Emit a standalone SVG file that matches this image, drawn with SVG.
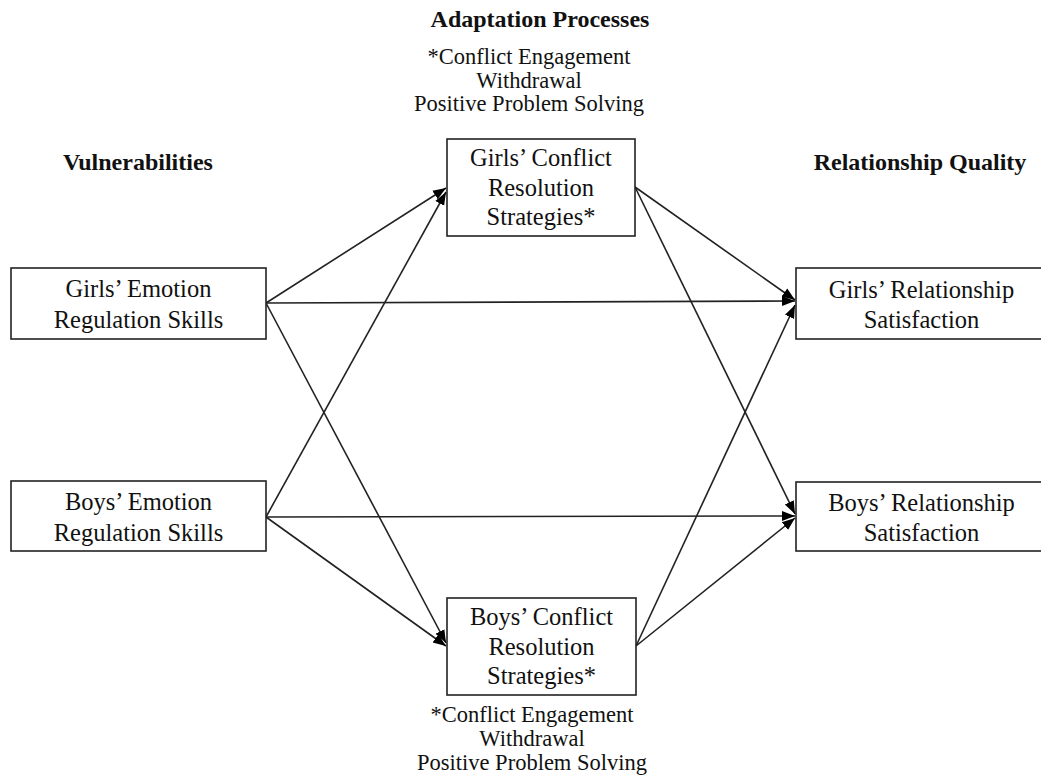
<svg xmlns="http://www.w3.org/2000/svg" width="1041" height="777" viewBox="0 0 1041 777">
<style>
  .box { fill: #ffffff; stroke: #222; stroke-width: 1.6; }
  .t { font-family: "Liberation Serif", "Times New Roman", serif; font-size: 24.5px; fill: #111; text-anchor: middle; }
  .h { font-family: "Liberation Serif", "Times New Roman", serif; font-size: 24px; font-weight: bold; fill: #111; text-anchor: middle; }
  .n { font-family: "Liberation Serif", "Times New Roman", serif; font-size: 22.5px; fill: #111; text-anchor: middle; }
  .c { stroke: #222; stroke-width: 1.6; fill: none; marker-end: url(#ah); }
</style>
<defs>
  <marker id="ah" markerUnits="userSpaceOnUse" markerWidth="14" markerHeight="12" refX="13" refY="6" orient="auto">
    <path d="M0,1 L13,6 L0,11 Z" fill="#000"/>
  </marker>
</defs>
<rect width="1041" height="777" fill="#ffffff"/>

<g id="headers">
  <text class="h" x="540" y="27">Adaptation Processes</text>
  <text class="h" x="138" y="170">Vulnerabilities</text>
  <text class="h" x="920" y="170">Relationship Quality</text>
</g>

<g id="note-top">
  <text class="n" x="529" y="64">*Conflict Engagement</text>
  <text class="n" x="529" y="88">Withdrawal</text>
  <text class="n" x="529" y="111">Positive Problem Solving</text>
</g>

<g id="note-bottom">
  <text class="n" x="532" y="722">*Conflict Engagement</text>
  <text class="n" x="532" y="746">Withdrawal</text>
  <text class="n" x="532" y="770">Positive Problem Solving</text>
</g>

<g id="connectors">
  <line class="c" x1="266" y1="303" x2="446" y2="188"/>
  <line class="c" x1="266" y1="303" x2="795" y2="301"/>
  <line class="c" x1="266" y1="303" x2="446" y2="643"/>
  <line class="c" x1="266" y1="517" x2="446" y2="192"/>
  <line class="c" x1="266" y1="517" x2="795" y2="516"/>
  <line class="c" x1="266" y1="517" x2="446" y2="646"/>
  <line class="c" x1="635" y1="187" x2="795" y2="300"/>
  <line class="c" x1="635" y1="187" x2="795" y2="514"/>
  <line class="c" x1="636" y1="646" x2="795" y2="305"/>
  <line class="c" x1="636" y1="646" x2="795" y2="518"/>
</g>

<g id="girls-emotion">
  <rect class="box" x="11" y="268" width="255" height="71"/>
  <text class="t" x="138.5" y="297">Girls’ Emotion</text>
  <text class="t" x="138.5" y="328">Regulation Skills</text>
</g>

<g id="boys-emotion">
  <rect class="box" x="11" y="481" width="255" height="70"/>
  <text class="t" x="138.5" y="510">Boys’ Emotion</text>
  <text class="t" x="138.5" y="541">Regulation Skills</text>
</g>

<g id="girls-conflict">
  <rect class="box" x="447" y="139" width="188" height="97"/>
  <text class="t" x="541" y="166">Girls’ Conflict</text>
  <text class="t" x="541" y="196">Resolution</text>
  <text class="t" x="541" y="225">Strategies*</text>
</g>

<g id="boys-conflict">
  <rect class="box" x="447" y="598" width="189" height="97"/>
  <text class="t" x="541.5" y="625">Boys’ Conflict</text>
  <text class="t" x="541.5" y="655">Resolution</text>
  <text class="t" x="541.5" y="684">Strategies*</text>
</g>

<g id="girls-relationship">
  <rect class="box" x="796" y="268" width="260" height="71"/>
  <text class="t" x="921.5" y="298">Girls’ Relationship</text>
  <text class="t" x="921.5" y="328">Satisfaction</text>
</g>

<g id="boys-relationship">
  <rect class="box" x="796" y="482" width="260" height="69"/>
  <text class="t" x="921.5" y="511">Boys’ Relationship</text>
  <text class="t" x="921.5" y="541">Satisfaction</text>
</g>
</svg>
